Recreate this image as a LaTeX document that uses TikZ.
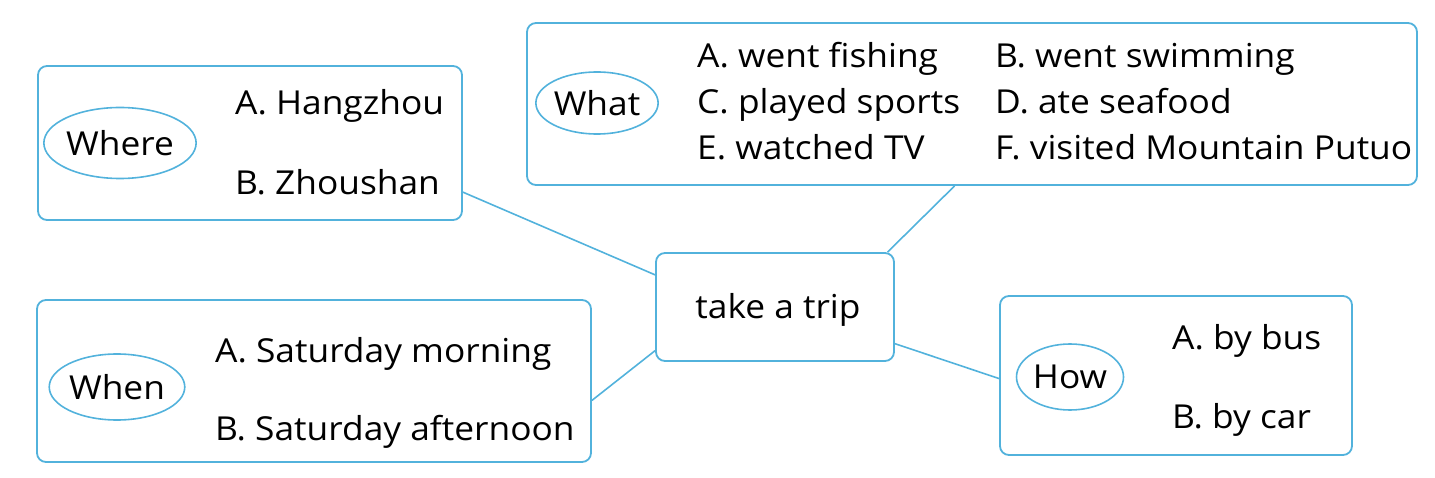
\documentclass[tikz,border=0pt]{standalone}
\usepackage{fontspec}
\setmainfont{Open Sans}[FakeStretch=1.07]
\usepackage{tikz}
\usetikzlibrary{shapes,positioning,calc}
\usepackage{xcolor}
\definecolor{tripblue}{RGB}{82,178,220}

\begin{document}
\begin{tikzpicture}[x=1pt, y=-1pt,
    box/.style={draw=tripblue, line width=1.8pt, rounded corners=9pt, inner sep=0pt},
    oval/.style={draw=tripblue, line width=1.6pt, ellipse, inner sep=0pt},
    item/.style={anchor=base west, inner sep=0pt},
    link/.style={draw=tripblue, line width=1.6pt}]
                    \useasboundingbox (0,0) rectangle (1435,478);
                    \fontsize{33}{40}\selectfont
                    % boxes
                    \node[box, minimum width=424pt, minimum height=154pt] (where) at (250,143) {};
                    \node[box, minimum width=890pt, minimum height=162pt] (what) at (972,104) {};
                    \node[box, minimum width=238pt, minimum height=108pt] (trip) at (775,307) {};
                    \node[box, minimum width=554pt, minimum height=162pt] (when) at (314,381) {};
                    \node[box, minimum width=352pt, minimum height=159pt] (how) at (1176,375.5) {};
                    % question ovals
                    \node[oval, minimum width=140pt, minimum height=71pt] (whereq) at (120,143) {Where};
                    \node[oval, minimum width=115pt, minimum height=62pt] (whatq) at (597,103) {What};
                    \node[oval, minimum width=134pt, minimum height=66pt] (whenq) at (117,387) {When};
                    \node[oval, minimum width=107pt, minimum height=66pt] (howq) at (1070,377) {How};
                    % answers
                    \node[item] (wherea) at (235,115) {A. Hangzhou};
                    \node[item] (whereb) at (235,195) {B. Zhoushan};
                    \node[item] (whata) at (697,68) {A. went fishing};
                    \node[item] (whatb) at (995,68) {B. went swimming};
                    \node[item] (whatc) at (697,114) {C. played sports};
                    \node[item] (whatd) at (995,114) {D. ate seafood};
                    \node[item] (whate) at (697,160) {E. watched TV};
                    \node[item] (whatf) at (995,160) {F. visited Mountain Putuo};
                    \node[item] (whena) at (215,362) {A. Saturday morning};
                    \node[item] (whenb) at (215,440) {B. Saturday afternoon};
                    \node[item] (howa) at (1172,349) {A. by bus};
                    \node[item] (howb) at (1172,428) {B. by car};
                    \node (triplabel) at (778,310) {take a trip};
                    % links
                    \draw[link] (where.-13.8) -- (trip.165);
                    \draw[link] (what.258.1) -- (trip.26.4);
                    \draw[link] (when.-4.3) -- (trip.200.7);
                    \draw[link] (trip.-17.7) -- (how.181);
                \end{tikzpicture}
\end{document}
